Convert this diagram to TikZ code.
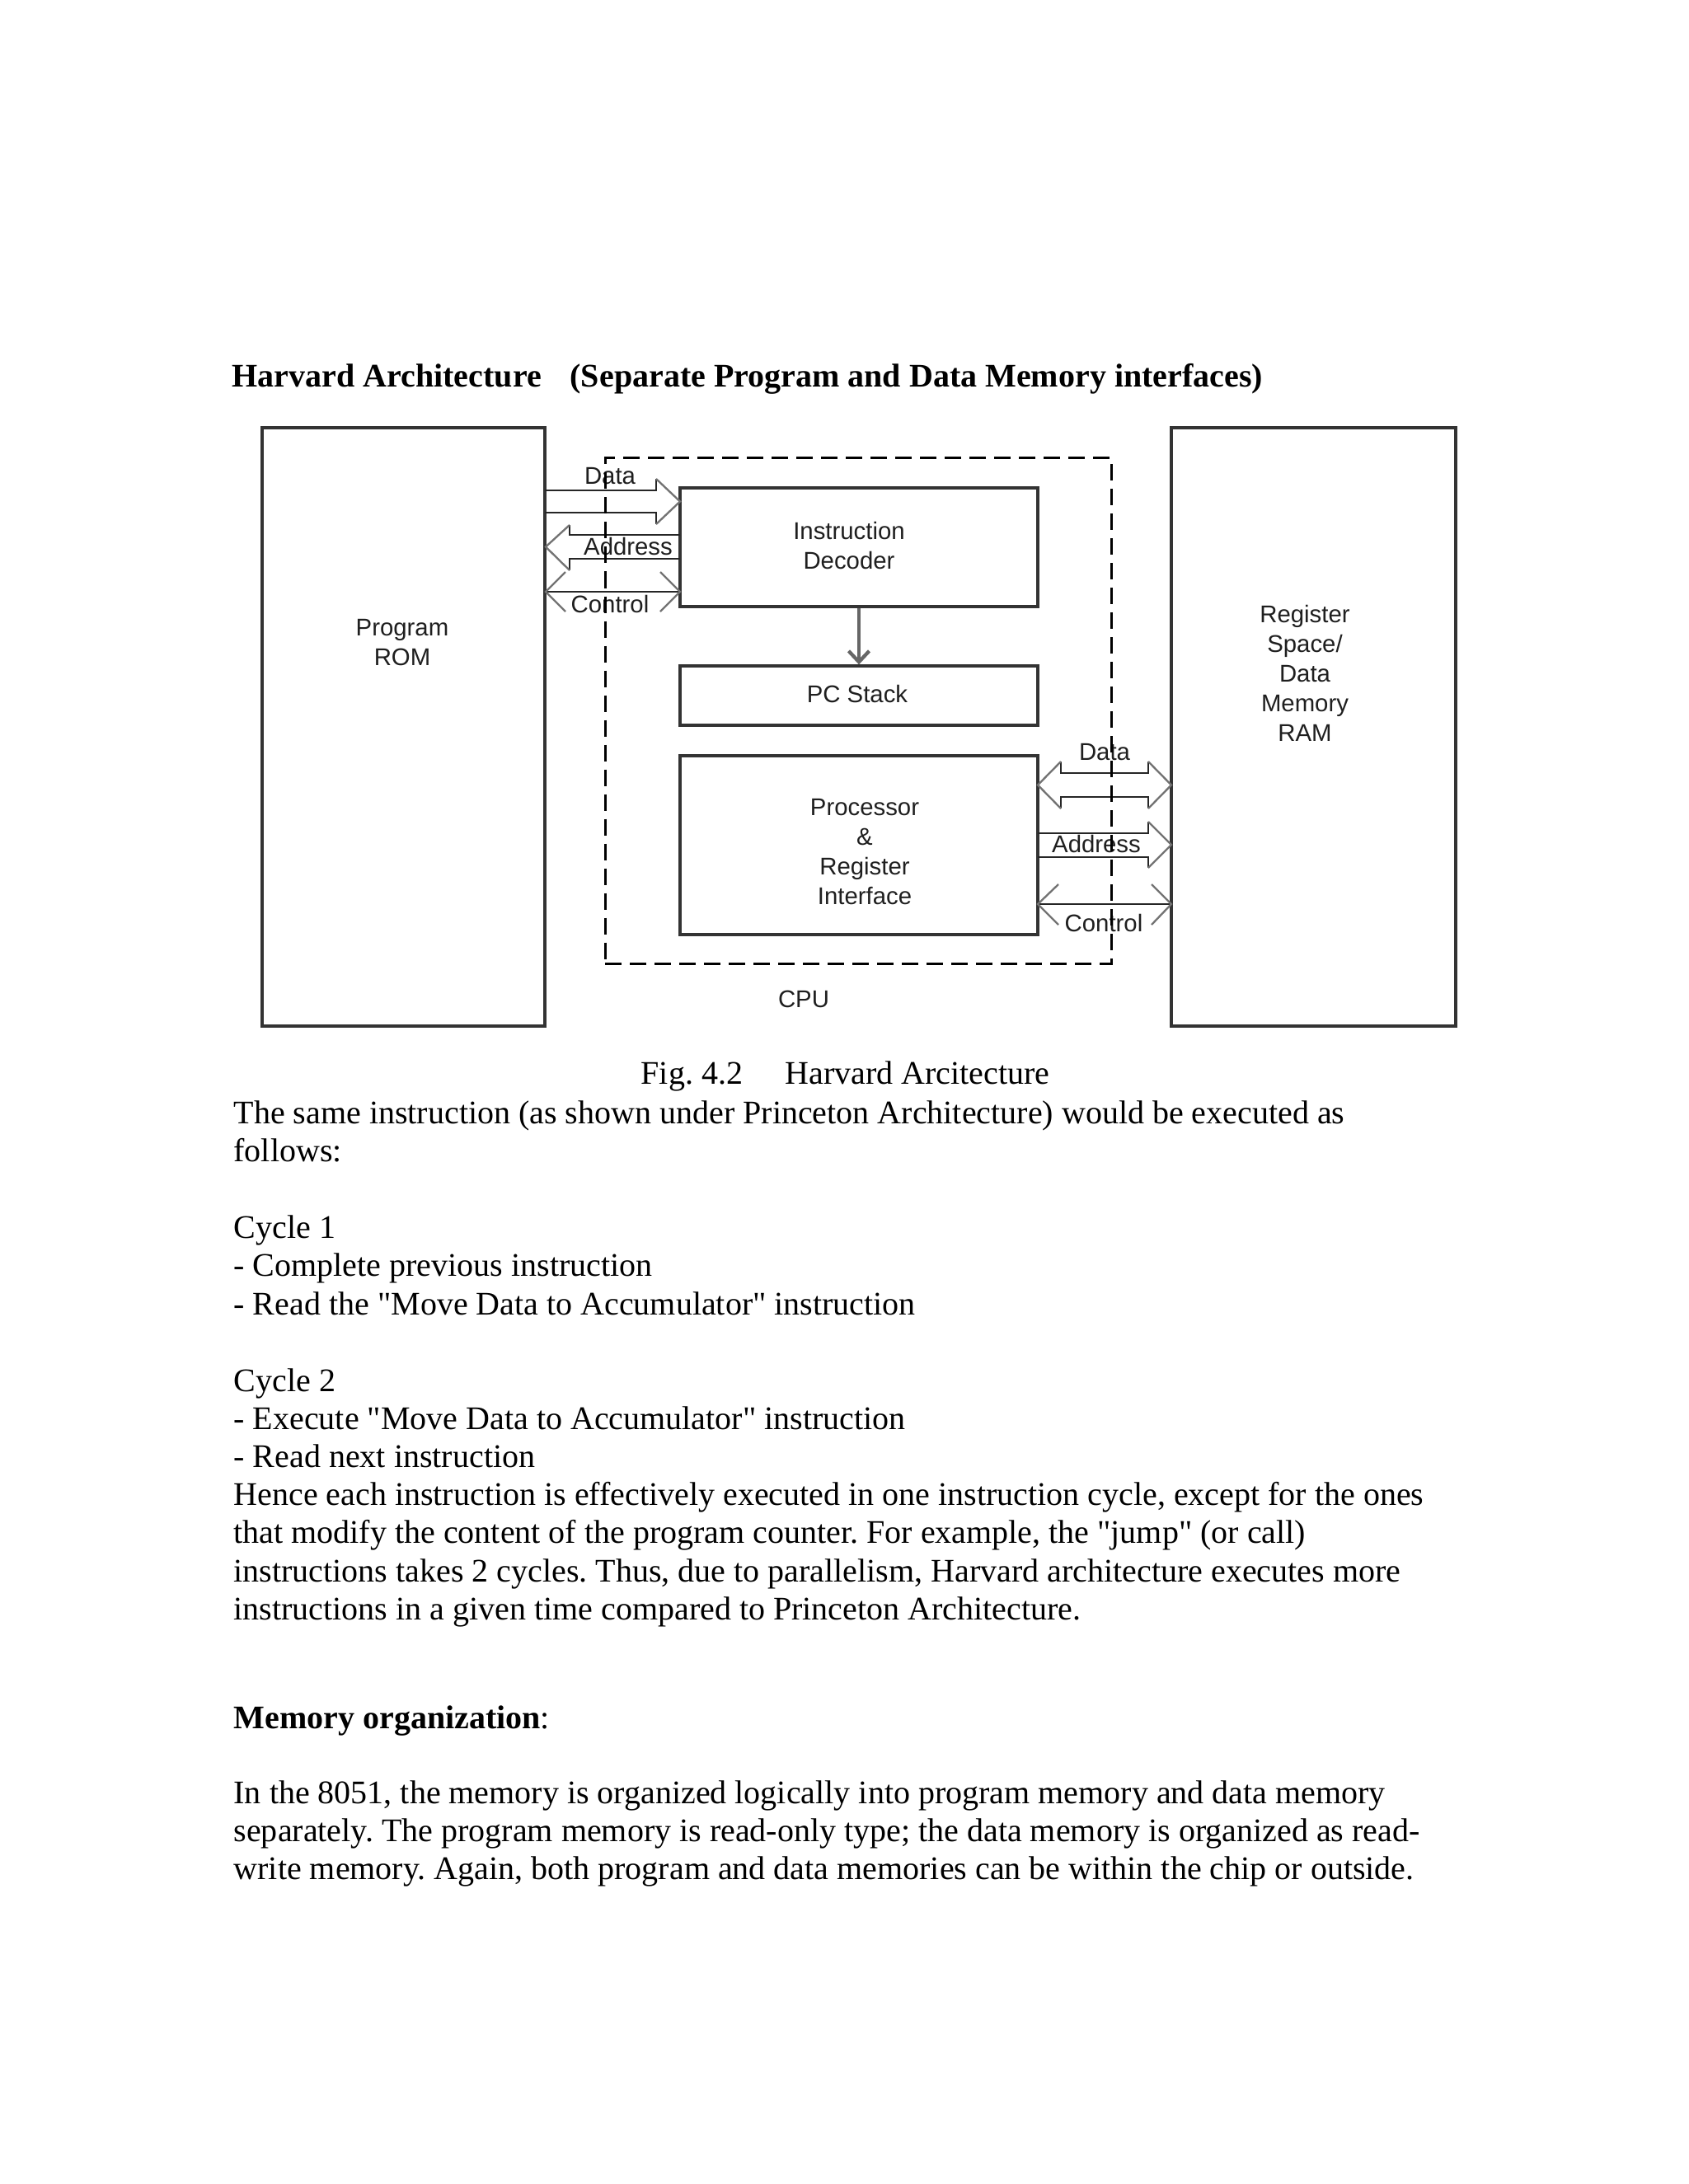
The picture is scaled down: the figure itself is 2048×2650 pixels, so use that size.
\documentclass[tikz,border=0pt]{standalone}
\usepackage{fontspec}
\setmainfont{Liberation Serif}
\newfontfamily\tnr{Liberation Serif}
\newfontfamily\diagfont{Liberation Sans}
\usetikzlibrary{arrows.meta,fit}
\frenchspacing
\begin{document}
\frenchspacing
\begin{tikzpicture}[x=0.29993pt,y=-0.29993pt,
  box/.style={draw=black!80, line width=1pt, inner sep=0pt, fill=none},
  cpubox/.style={draw=black, line width=0.9pt, dash pattern=on 6pt off 3pt, inner sep=0pt},
  lbl/.style={font=\diagfont\fontsize{8.8pt}{10.8pt}\selectfont, text=black!88, inner sep=0pt, align=center},
  body/.style={anchor=base west, inner sep=0pt, font=\tnr\frenchspacing\fontsize{12pt}{14pt}\selectfont},
  bus/.style={draw=black!85, line width=0.8pt},
  head/.style={draw=black!55, line width=0.7pt},
]
\useasboundingbox (0,0) rectangle (2048,2650);
\fill[white] (0,0) rectangle (2048,2650);

% title
\node[body, font=\tnr\bfseries\fontsize{12pt}{14pt}\selectfont] (title1) at (281,469) {Harvard Architecture};
\node[body, font=\tnr\bfseries\fontsize{12pt}{14pt}\selectfont] (title2) at (691,469) {(Separate Program and Data Memory interfaces)};

% boxes
\node[box, fit={(318,519) (661,1245)}] (rom) {};
\node[box, fit={(1421,519) (1766,1245)}] (ram) {};
\node[box, fit={(825,592) (1259,736)}] (dec) {};
\node[box, fit={(825,808) (1259,880)}] (pc) {};
\node[box, fit={(825,917) (1259,1134)}] (proc) {};

% box texts
\node[lbl] (romt) at (488,780) {Program\\ROM};
\node[lbl] (ramt) at (1583,817) {Register\\Space/\\Data\\Memory\\RAM};
\node[lbl] (dect) at (1030,662) {Instruction\\Decoder};
\node[lbl] (pct) at (1040,842) {PC Stack};
\node[lbl] (proct) at (1049,1034) {Processor\\\&\\Register\\Interface};
\node[lbl] (cput) at (975,1212) {CPU};

% decoder -> PC stack
\draw[draw=black!60, line width=1.3pt, -{Straight Barb[length=4pt,width=7.5pt]}] (dec) -- (pc);

% left buses
\node[lbl] (ldata) at (740,578) {Data};
\node[lbl] (laddr) at (762,663) {Address};
\node[lbl] (lctl) at (740,733) {Control};
% Data (to decoder)
\draw[bus] (661,595) -- (796,595) -- (796,581);
\draw[bus] (661,622) -- (796,622) -- (796,636);
\draw[head] (796,581) -- (825,608.5) -- (796,636);
% Address (to ROM)
\draw[bus] (825,649) -- (691,649) -- (691,637);
\draw[bus] (825,678) -- (691,678) -- (691,692);
\draw[head] (691,637) -- (662,663.5) -- (691,692);
% Control
\coordinate (lc) at (0,718);
\draw[bus] (rom.east |- lc) -- (dec.west |- lc);
\draw[head] (686,694) -- (662,718) -- (686,742);
\draw[head] (801,694) -- (825,718) -- (801,742);

% right buses
\node[lbl] (rdata) at (1340,913) {Data};
\node[lbl] (raddr) at (1330,1024) {Address};
\node[lbl] (rctl) at (1339,1120) {Control};
% Data (both ways)
\draw[bus] (1287,924) -- (1287,938) -- (1393,938) -- (1393,924);
\draw[bus] (1287,981) -- (1287,967) -- (1393,967) -- (1393,981);
\draw[head] (1287,924) -- (1259,952.5) -- (1287,981);
\draw[head] (1393,924) -- (1421,952.5) -- (1393,981);
% Address (to RAM)
\draw[bus] (1259,1011) -- (1393,1011) -- (1393,997);
\draw[bus] (1259,1040) -- (1393,1040) -- (1393,1053);
\draw[head] (1393,997) -- (1421,1025) -- (1393,1053);
% Control
\coordinate (rc) at (0,1097);
\draw[bus] (proc.east |- rc) -- (ram.west |- rc);
\draw[head] (1284,1073) -- (1259,1097) -- (1284,1122);
\draw[head] (1397,1073) -- (1421,1097) -- (1397,1122);

% CPU dashed boundary
\node[cpubox, fit={(734,555) (1348,1169)}] (cpu) {};

% caption
\node[body] (fig1) at (777,1315) {Fig. 4.2};
\node[body] (fig2) at (952,1315) {Harvard Arcitecture};

% body text
\node[body] (t1) at (283,1363) {The same instruction (as shown under Princeton Architecture) would be executed as};
\node[body] (t2) at (283,1409) {follows:};
\node[body] (t3) at (283,1502) {Cycle 1};
\node[body] (t4) at (283,1548) {- Complete previous instruction};
\node[body] (t5) at (283,1595) {- Read the "Move Data to Accumulator" instruction};
\node[body] (t6) at (283,1688) {Cycle 2};
\node[body] (t7) at (283,1734) {- Execute "Move Data to Accumulator" instruction};
\node[body] (t8) at (283,1780) {- Read next instruction};
\node[body] (t9) at (283,1826) {Hence each instruction is effectively executed in one instruction cycle, except for the ones};
\node[body] (t10) at (283,1872) {that modify the content of the program counter. For example, the "jump" (or call)};
\node[body] (t11) at (283,1919) {instructions takes 2 cycles. Thus, due to parallelism, Harvard architecture executes more};
\node[body] (t12) at (283,1965) {instructions in a given time compared to Princeton Architecture.};
\node[body] (t13) at (283,2097) {\textbf{Memory organization}:};
\node[body] (t14) at (283,2188) {In the 8051, the memory is organized logically into program memory and data memory};
\node[body] (t15) at (283,2234) {separately. The program memory is read-only type; the data memory is organized as read-};
\node[body] (t16) at (283,2280) {write memory. Again, both program and data memories can be within the chip or outside.};
\end{tikzpicture}
\end{document}
